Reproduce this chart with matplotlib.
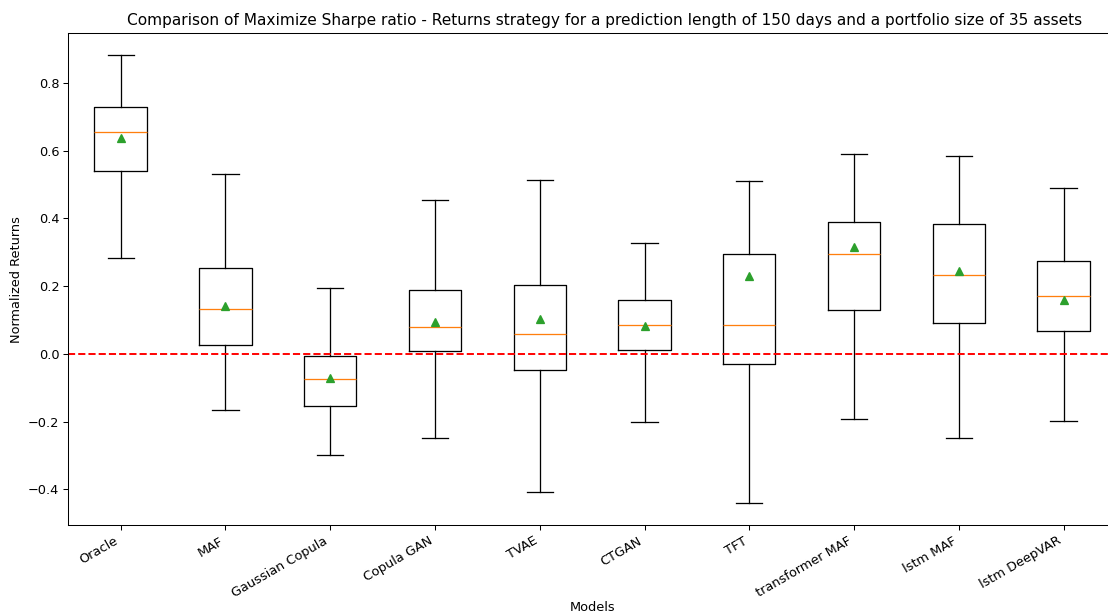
import numpy as np
import matplotlib.pyplot as plt

models = ["Oracle", "MAF", "Gaussian Copula", "Copula GAN", "TVAE", "CTGAN",
          "TFT", "transformer MAF", "lstm MAF", "lstm DeepVAR"]

# per-model summary statistics of normalized returns
whislo = [0.284, -0.166, -0.300, -0.249, -0.407, -0.202, -0.440, -0.193, -0.249, -0.198]
q1     = [0.541, 0.027, -0.155, 0.007, -0.047, 0.010, -0.030, 0.130, 0.090, 0.068]
med    = [0.656, 0.133, -0.074, 0.080, 0.058, 0.085, 0.085, 0.295, 0.233, 0.172]
q3     = [0.728, 0.253, -0.006, 0.188, 0.202, 0.158, 0.295, 0.389, 0.384, 0.275]
whishi = [0.881, 0.530, 0.194, 0.455, 0.512, 0.328, 0.509, 0.589, 0.584, 0.490]
means  = [0.637, 0.140, -0.072, 0.094, 0.102, 0.081, 0.231, 0.314, 0.245, 0.159]

stats = []
for i, name in enumerate(models):
    stats.append({"label": name, "whislo": whislo[i], "q1": q1[i], "med": med[i],
                  "q3": q3[i], "whishi": whishi[i], "mean": means[i], "fliers": []})

DPI = 92.6
fig = plt.figure(figsize=(1108 / DPI, 614 / DPI), dpi=DPI)
ax = fig.add_axes([0.0616, 0.1445, 0.9456, 0.8018])

ax.bxp(stats, showmeans=True, showfliers=False)
ax.axhline(0, color="r", linestyle="--", linewidth=1.5)

ax.set_title("Comparison of Maximize Sharpe ratio - Returns strategy for a prediction length of 150 days and a portfolio size of 35 assets",
             x=0.512)
ax.set_xlabel("Models", labelpad=1)
ax.set_ylabel("Normalized Returns")
plt.setp(ax.get_xticklabels(), rotation=30, ha="right")

fig.savefig("out.png", dpi=DPI)
